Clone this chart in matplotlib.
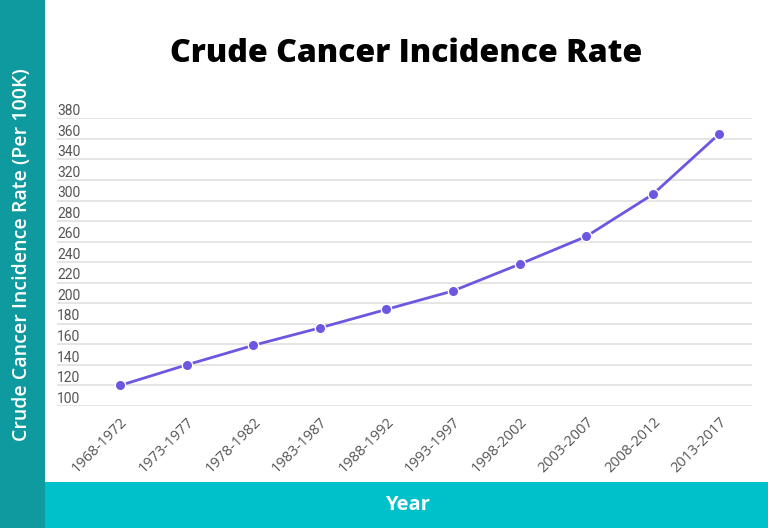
import matplotlib
matplotlib.use("Agg")
import matplotlib.pyplot as plt
from matplotlib.patches import Rectangle

periods = ["1968-1972", "1973-1977", "1978-1982", "1983-1987", "1988-1992",
           "1993-1997", "1998-2002", "2003-2007", "2008-2012", "2013-2017"]
rates = [120, 140, 159, 176, 194, 212, 238, 265, 306, 365]
y_ticks = list(range(100, 381, 20))

title = "Crude Cancer Incidence Rate"
x_label = "Year"
y_label = "Crude Cancer Incidence Rate (Per 100K)"

W, H = 768, 528
fig = plt.figure(figsize=(W / 100, H / 100), dpi=100)
fig.patch.set_facecolor("white")

# side and bottom bands
fig.patches.append(Rectangle((0, 0), 45 / W, 1, transform=fig.transFigure,
                             facecolor="#0E9A9E", edgecolor="none", zorder=0))
fig.patches.append(Rectangle((45 / W, 0), 1 - 45 / W, 46 / H, transform=fig.transFigure,
                             facecolor="#00C1C9", edgecolor="none", zorder=0))

left_px, right_px, top_px, bottom_px = 57, 752, 118.3, 406
ax = fig.add_axes([left_px / W, 1 - bottom_px / H, (right_px - left_px) / W,
                   (bottom_px - top_px) / H])
ax.set_facecolor("none")

# x positions: first category at 120 px, spacing 66.6 px
step = 66.6
x0 = (left_px - 120) / step
x1 = (right_px - 120) / step
ax.set_xlim(x0, x1)
ax.set_ylim(100, 380)

ax.plot(range(len(rates)), rates, color="#6B57E0", lw=2.0, marker="o",
        markersize=7.5, markerfacecolor="#6B57E0", markeredgecolor="white",
        markeredgewidth=1.0, zorder=3, clip_on=False)

ax.set_yticks(y_ticks)
ax.set_yticklabels([])
ax.tick_params(axis="y", length=0)
ax.grid(axis="y", color="#E3E3E3", lw=1.3)
ax.set_axisbelow(True)
for s in ax.spines.values():
    s.set_visible(False)

for v in y_ticks:
    ax.annotate(str(v), xy=(0, v), xycoords=("axes fraction", "data"),
                xytext=(0, 2.4), textcoords="offset points", ha="left", va="baseline",
                fontsize=10, color="#555555", family="Roboto")

ax.set_xticks(range(len(periods)))
ax.set_xticklabels(periods, rotation=45, ha="right", va="top",
                   rotation_mode="anchor", fontsize=10.5, color="#555555",
                   family="Open Sans")
ax.tick_params(axis="x", length=0, pad=6)

fig.text(406 / W, 1 - 54 / H, title, ha="center", va="center", fontsize=23,
         fontweight=800, family="Open Sans", color="black")
fig.text(407 / W, 1 - 505 / H, x_label, ha="center", va="center", fontsize=14.5,
         fontweight="bold", family="Open Sans", color="white")
fig.text(22 / W, 1 - 255 / H, y_label, ha="center", va="center", rotation=90,
         fontsize=14, fontweight="semibold", family="Open Sans", color="white")

fig.savefig("out.png", dpi=100, facecolor=fig.get_facecolor())
